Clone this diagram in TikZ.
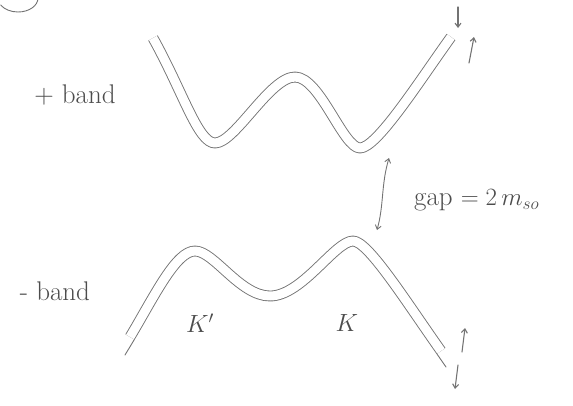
\documentclass[tikz,border=0pt]{standalone}
\usetikzlibrary{arrows.meta}
\begin{document}
\begin{tikzpicture}[x=1pt,y=-1pt,
  pencil/.style={draw=black!55, line width=0.9pt, line cap=round, line join=round},
  bandline/.style={pencil, line cap=butt, double=white, double distance=9pt},
  spinarrow/.style={pencil, line width=1.1pt, -{Straight Barb[length=4pt,width=6pt]}},
  gaparrow/.style={pencil, {Straight Barb[length=4pt,width=6pt]}-{Straight Barb[length=4pt,width=6pt]}},
  hand/.style={text=black!70, font=\fontsize{27}{30}\selectfont, inner sep=0pt}]
\useasboundingbox (0,0) rectangle (573,405);
% partial circle top-left
\draw[pencil] (38,-2) arc[start angle=0, end angle=-150, x radius=20pt, y radius=14pt];
% + band (upper W)
\draw[bandline] (153,38) .. controls (183,92) and (198,143) .. (215,143)
  .. controls (235,143) and (270,77) .. (295,77)
  .. controls (320,77) and (343,148) .. (360,148)
  .. controls (377,148) and (420,80) .. (451,37);
% - band (lower M)
\draw[bandline] (130,337) .. controls (155,295) and (176,251) .. (195,251)
  .. controls (214,251) and (240,296) .. (270,296)
  .. controls (302,296) and (335,241) .. (353,241)
  .. controls (368,241) and (405,300) .. (441,351);
% lower line extensions of - band
\coordinate (le1) at (134.3,339.6); \coordinate (le1e) at (125,355);
\coordinate (re1) at (436.9,353.9); \coordinate (re1e) at (446,367);
\draw[pencil] (le1) -- (le1e);
\draw[pencil] (re1) -- (re1e);
% spin arrows
\coordinate (d1s) at (458,7);  \coordinate (d1e) at (458,28);
\coordinate (u1s) at (469,63); \coordinate (u1e) at (474,37);
\coordinate (u2s) at (462,352); \coordinate (u2e) at (465,328);
\coordinate (d2s) at (458,365); \coordinate (d2e) at (455,389);
\draw[spinarrow] (d1s) -- (d1e);
\draw[spinarrow] (u1s) -- (u1e);
\draw[spinarrow] (u2s) -- (u2e);
\draw[spinarrow] (d2s) -- (d2e);
% gap arrow
\coordinate (gtop) at (389,158);
\coordinate (gbot) at (377,230);
\draw[gaparrow] (gbot) .. controls (384,205) and (381,185) .. (gtop);
% labels
\node[hand] (plus) at (75,95) {+ band};
\node[hand] (minus) at (55,291) {- band};
\node[hand] (kp) at (200,323) {$K'$};
\node[hand] (k) at (347,323) {$K$};
\node[hand, anchor=west] (gap) at (414,200) {gap $=2\,m_{so}$};
\end{tikzpicture}
\end{document}
